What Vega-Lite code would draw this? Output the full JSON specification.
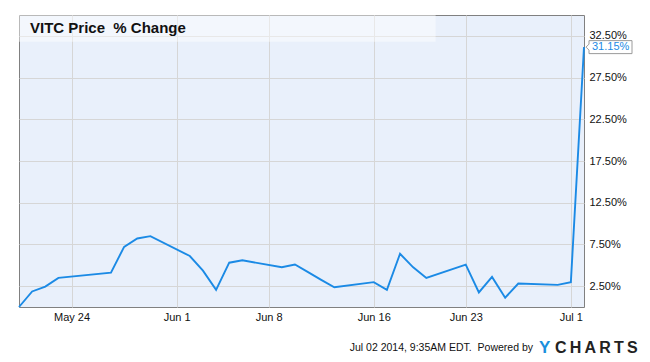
{
  "$schema": "https://vega.github.io/schema/vega-lite/v6.json",
  "width": 565,
  "height": 292,
  "autosize": "none",
  "padding": {"left": 19, "top": 15, "right": 66, "bottom": 55},
  "background": "#ffffff",
  "title": {
    "text": "VITC Price\u00a0 % Change",
    "anchor": "start",
    "orient": "top",
    "frame": "group",
    "offset": -18.5,
    "dx": 11,
    "dy": 14.5,
    "baseline": "alphabetic",
    "font": "Liberation Sans",
    "fontSize": 15,
    "fontWeight": "bold",
    "color": "#111111"
  },
  "data": {
    "values": [
      {"date": "2014-05-20", "pct": 0},
      {"date": "2014-05-21", "pct": 1.86},
      {"date": "2014-05-22", "pct": 2.45},
      {"date": "2014-05-23", "pct": 3.49},
      {"date": "2014-05-27", "pct": 4.12},
      {"date": "2014-05-28", "pct": 7.21},
      {"date": "2014-05-29", "pct": 8.21},
      {"date": "2014-05-30", "pct": 8.49},
      {"date": "2014-06-02", "pct": 6.11},
      {"date": "2014-06-03", "pct": 4.36},
      {"date": "2014-06-04", "pct": 2.06},
      {"date": "2014-06-05", "pct": 5.31},
      {"date": "2014-06-06", "pct": 5.6},
      {"date": "2014-06-09", "pct": 4.76},
      {"date": "2014-06-10", "pct": 5.1},
      {"date": "2014-06-11", "pct": 4.18},
      {"date": "2014-06-12", "pct": 3.25},
      {"date": "2014-06-13", "pct": 2.36},
      {"date": "2014-06-16", "pct": 2.98},
      {"date": "2014-06-17", "pct": 2.06},
      {"date": "2014-06-18", "pct": 6.38},
      {"date": "2014-06-19", "pct": 4.76},
      {"date": "2014-06-20", "pct": 3.49},
      {"date": "2014-06-23", "pct": 5.07},
      {"date": "2014-06-24", "pct": 1.74},
      {"date": "2014-06-25", "pct": 3.61},
      {"date": "2014-06-26", "pct": 1.11},
      {"date": "2014-06-27", "pct": 2.81},
      {"date": "2014-06-30", "pct": 2.65},
      {"date": "2014-07-01", "pct": 2.98},
      {"date": "2014-07-02", "pct": 31.15}
    ]
  },
  "encoding": {
    "x": {
      "field": "date",
      "type": "temporal",
      "scale": {
        "type": "utc",
        "domain": [
          {"year": 2014, "month": 5, "date": 20, "utc": true},
          {"year": 2014, "month": 7, "date": 2, "utc": true}
        ]
      },
      "axis": {
        "title": null,
        "orient": "bottom",
        "format": "%b %-d",
        "values": [
          {"year": 2014, "month": 5, "date": 24, "utc": true},
          {"year": 2014, "month": 6, "date": 1, "utc": true},
          {"year": 2014, "month": 6, "date": 8, "utc": true},
          {"year": 2014, "month": 6, "date": 16, "utc": true},
          {"year": 2014, "month": 6, "date": 23, "utc": true},
          {"year": 2014, "month": 7, "date": 1, "utc": true}
        ],
        "labelPadding": 4,
        "labelBaseline": "top"
      }
    },
    "y": {
      "field": "pct",
      "type": "quantitative",
      "scale": {"domain": [0, 35.0], "nice": false, "zero": false},
      "axis": {
        "title": null,
        "orient": "right",
        "values": [2.5, 7.5, 12.5, 17.5, 22.5, 27.5, 32.5],
        "labelExpr": "format(datum.value, '.2f') + '%'",
        "labelPadding": 5
      }
    }
  },
  "layer": [
    {
      "transform": [{"filter": "datum.pct > 30"}],
      "mark": {"type": "rect", "fill": "#ffffff", "opacity": 0.45},
      "encoding": {
        "x": {"datum": {"year": 2014, "month": 5, "date": 20, "utc": true}, "type": "temporal"},
        "x2": {"datum": {"year": 2014, "month": 6, "date": 20, "hours": 17, "utc": true}},
        "y": {"datum": 35.0},
        "y2": {"datum": 31.8}
      }
    },
    {
      "mark": {"type": "line", "color": "#1b8ae5", "strokeWidth": 1.9, "interpolate": "linear"}
    },
    {
      "transform": [{"filter": "datum.pct > 30"}],
      "mark": {
        "type": "point",
        "shape": "M2,0 L5,-3 L5,-6.5 L48,-6.5 L48,6.5 L5,6.5 L5,3 Z",
        "size": 4,
        "filled": true,
        "fill": "#ffffff",
        "stroke": "#9a9a9a",
        "strokeWidth": 1,
        "opacity": 1
      }
    },
    {
      "transform": [{"filter": "datum.pct > 30"}],
      "mark": {
        "type": "text",
        "align": "left",
        "baseline": "middle",
        "dx": 8,
        "font": "Liberation Sans",
        "fontSize": 11,
        "color": "#1b8ae5",
        "text": {"expr": "format(datum.pct, '.2f') + '%'"}
      }
    },
    {
      "transform": [{"filter": "datum.pct > 30"}],
      "mark": {
        "type": "text",
        "align": "right",
        "baseline": "alphabetic",
        "dx": -51,
        "dy": 44,
        "font": "Liberation Sans",
        "fontSize": 10.5,
        "color": "#111111",
        "text": "Jul 02 2014, 9:35AM EDT.\u00a0 Powered by"
      },
      "encoding": {
        "x": {"datum": {"year": 2014, "month": 7, "date": 2, "utc": true}, "type": "temporal"},
        "y": {"datum": 0}
      }
    },
    {
      "transform": [{"filter": "datum.pct > 30"}],
      "mark": {
        "type": "text",
        "align": "left",
        "baseline": "alphabetic",
        "dx": -45,
        "dy": 46,
        "font": "Liberation Sans",
        "fontSize": 17,
        "fontWeight": "bold",
        "color": "#1b8fdd",
        "text": "Y"
      },
      "encoding": {
        "x": {"datum": {"year": 2014, "month": 7, "date": 2, "utc": true}, "type": "temporal"},
        "y": {"datum": 0}
      }
    },
    {
      "transform": [{"filter": "datum.pct > 30"}],
      "mark": {
        "type": "text",
        "align": "left",
        "baseline": "alphabetic",
        "dx": -29,
        "dy": 46,
        "font": "Liberation Sans",
        "fontSize": 16,
        "fontWeight": "bold",
        "color": "#222222",
        "text": "C\u2009H\u2009A\u2009R\u2009T\u2009S"
      },
      "encoding": {
        "x": {"datum": {"year": 2014, "month": 7, "date": 2, "utc": true}, "type": "temporal"},
        "y": {"datum": 0}
      }
    }
  ],
  "config": {
    "view": {"fill": "#e9f0fb", "stroke": "#808080", "strokeWidth": 1},
    "axis": {
      "domain": false,
      "ticks": false,
      "grid": true,
      "gridColor": "#d6d6d6",
      "gridWidth": 1,
      "labelFont": "Liberation Sans",
      "labelFontSize": 11,
      "labelColor": "#111111"
    }
  }
}
